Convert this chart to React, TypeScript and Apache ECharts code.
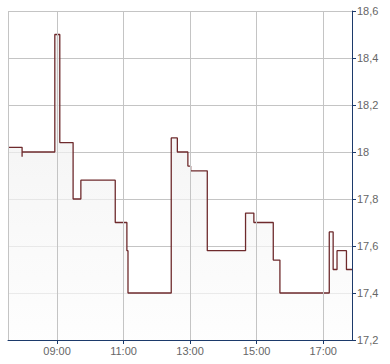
import React, { useEffect, useRef } from "react";
import * as echarts from "echarts";

const times = [
  "07:31:35", "07:57", "07:57", "08:56", "09:05", "09:29", "09:43", "10:45",
  "11:06", "11:08", "12:26", "12:37", "12:56", "13:01", "13:31", "14:40",
  "14:55", "15:30", "15:42", "17:11", "17:18", "17:25", "17:42", "17:52",
];
const prices = [
  18.02, 17.98, 18.0, 18.5, 18.04, 17.8, 17.88, 17.7,
  17.58, 17.4, 18.06, 18.0, 17.94, 17.92, 17.58, 17.74,
  17.7, 17.54, 17.4, 17.66, 17.5, 17.58, 17.5, 17.5,
];
const yTicks = [17.2, 17.4, 17.6, 17.8, 18.0, 18.2, 18.4, 18.6];
const xTickHours = [9, 11, 13, 15, 17];

const toHours = (s: string) => {
  const p = s.split(":").map(Number);
  return p[0] + (p[1] || 0) / 60 + (p[2] || 0) / 3600;
};

export default function App() {
  const ref = useRef<HTMLDivElement>(null);
  useEffect(() => {
    document.body.style.margin = "0";
    const chart = echarts.init(ref.current!, undefined, { renderer: "svg" });
    const data = times.map((t, i) => [toHours(t), prices[i]]);
    const xMin = toHours(times[0]);
    const xMax = toHours(times[times.length - 1]);
    const axisColor = "#1c3a6b";
    const gridColor = "#c4c4c4";
    chart.setOption({
      animation: false,
      backgroundColor: "#ffffff",
      grid: { left: 8, right: 38, top: 11, bottom: 24 },
      xAxis: {
        type: "value",
        min: xMin,
        max: xMax,
        axisLine: { show: true, lineStyle: { color: axisColor, width: 1 } },
        axisTick: {
          show: true,
          length: 4,
          lineStyle: { color: axisColor },
          customValues: xTickHours,
        },
        axisLabel: {
          customValues: xTickHours,
          color: "#666",
          fontSize: 11,
          fontFamily: "Liberation Sans, Arial, sans-serif",
          margin: 5,
          formatter: (v: number) => String(Math.round(v)).padStart(2, "0") + ":00",
        },
        splitLine: { show: false },
      },
      yAxis: {
        type: "value",
        position: "right",
        min: yTicks[0],
        max: yTicks[yTicks.length - 1],
        interval: 0.2,
        axisLine: { show: true, lineStyle: { color: axisColor, width: 1 } },
        axisTick: { show: true, length: 4, lineStyle: { color: axisColor } },
        axisLabel: {
          color: "#666",
          fontSize: 11,
          fontFamily: "Liberation Sans, Arial, sans-serif",
          margin: 5,
          formatter: (v: number) => String(+v.toFixed(1)).replace(".", ","),
        },
        splitLine: { show: true, lineStyle: { color: gridColor, width: 1 } },
      },
      series: [
        {
          type: "line",
          step: "end",
          data,
          symbol: "none",
          lineStyle: { color: "#6e2a2c", width: 1.3 },
          areaStyle: {
            origin: "start",
            color: new echarts.graphic.LinearGradient(0, 0, 0, 1, [
              { offset: 0, color: "#ebebeb" },
              { offset: 1, color: "#fdfdfd" },
            ]),
          },
          z: 3,
        },
        {
          type: "line",
          data: [],
          markLine: {
            silent: true,
            symbol: "none",
            label: { show: false },
            lineStyle: { color: gridColor, width: 1, type: "solid" },
            data: [{ xAxis: xMin }, ...xTickHours.map((h) => ({ xAxis: h }))],
          },
          z: 1,
        },
      ],
    });
    return () => chart.dispose();
  }, []);
  return <div ref={ref} style={{ width: 390, height: 364 }} />;
}
